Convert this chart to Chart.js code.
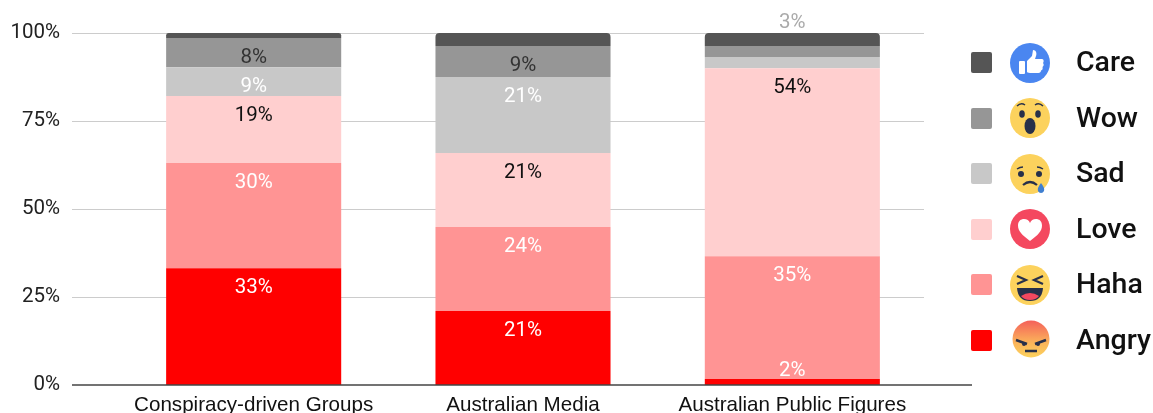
<!DOCTYPE html>
<html><head><meta charset="utf-8">
<style>
html,body{margin:0;padding:0;background:#fff;overflow:hidden}
#wrap{position:relative;width:1153px;height:413px}
canvas{position:absolute;left:0;top:0}
.sw{position:absolute;width:21px;height:21px;border-radius:2px;left:971px}
.ic{position:absolute;left:1010px;width:40px;height:40px}
.tx{position:absolute;left:1076px;font:500 28.5px Roboto,sans-serif;color:#111;line-height:32px;height:32px;white-space:nowrap}
</style></head><body>
<div id="wrap"><canvas id="c" width="1153" height="413"></canvas><div id="legend"></div></div>
<script src="https://cdn.jsdelivr.net/npm/chart.js@4"></script>
<script>
const categories=["Conspiracy-driven Groups","Australian Media","Australian Public Figures"];
const yTicks=[0,25,50,75,100];
const angry=[33.2,21,1.7];
const haha=[29.9,23.9,34.9];
const love=[19,21,53.4];
const sad=[8.2,21.6,3.2];
const wow=[8.3,8.8,3.1];
const care=[1.4,3.7,3.7];
const angryLabels=["33%","21%","2%"];
const hahaLabels=["30%","24%","35%"];
const loveLabels=["19%","21%","54%"];
const sadLabels=["9%","21%",""];
const wowLabels=["8%","9%",""];
const careLabels=["","","3%"];
const seriesNames=["Angry","Haha","Love","Sad","Wow","Care"];
const seriesValues=[angry,haha,love,sad,wow,care];
const seriesLabels=[angryLabels,hahaLabels,loveLabels,sadLabels,wowLabels,careLabels];
const seriesColors=["#ff0000","#ff9494","#ffcfcf","#c8c8c8","#969696","#555555"];
const labelColors=["#ffffff","#ffffff","#111111","#ffffff","#333333","#aaaaaa"];

const icons={
Care:'<circle cx="20" cy="20" r="20" fill="#4a86f0"/><rect x="9" y="18" width="6" height="13" rx="1" fill="#fff"/><path d="M17 18l5-5 1-6c3 0 4 3 3 6l-1 3h7c2 0 2 3 1 4 1 1 1 3-.5 4 .5 1.500 0 3-1.500 3.500 0 1.500-1 2.500-2.500 2.500H20c-2 0-3-1-3-1z" fill="#fff"/>',
Wow:'<circle cx="20" cy="20" r="20" fill="#fcd25d"/><ellipse cx="12" cy="16" rx="2.800" ry="3.800" fill="#27304a"/><ellipse cx="28" cy="16" rx="2.800" ry="3.800" fill="#27304a"/><ellipse cx="20" cy="28" rx="5.500" ry="8" fill="#27304a"/><path d="M7 8q4-4 8-1M25 7q4-3 8 1" stroke="#27304a" stroke-width="1.500" fill="none"/>',
Sad:'<circle cx="20" cy="20" r="20" fill="#fcd25d"/><circle cx="11" cy="20" r="3" fill="#27304a"/><circle cx="29" cy="20" r="3" fill="#27304a"/><path d="M13 31q7-6 14 0" stroke="#27304a" stroke-width="2.200" fill="none"/><path d="M7 15q3-2 6-2M27 13q3 0 6 2" stroke="#27304a" stroke-width="1.500" fill="none"/><path d="M31 29q4 5 3 8a3.300 3.300 0 0 1-6 0q-1-3 3-8z" fill="#3f7fd0"/>',
Love:'<circle cx="20" cy="20" r="20" fill="#f4485f"/><path d="M20 32C12 26 8 22 8 16.500 8 12 11 10 14 10c3 0 5 1.500 6 4 1-2.500 3-4 6-4 3 0 6 2 6 6.500C32 22 28 26 20 32z" fill="#fff"/>',
Haha:'<circle cx="20" cy="20" r="20" fill="#fcd25d"/><path d="M7 11l9 4-9 4M33 11l-9 4 9 4" stroke="#27304a" stroke-width="2.200" fill="none"/><path d="M7 23h26q-1 13-13 13T7 23z" fill="#27304a"/><path d="M11 31q9-6 18 0-3 4-9 4t-9-4z" fill="#f4485f"/>',
Angry:'<defs><linearGradient id="ag" x1="0" y1="0" x2="0" y2="1"><stop offset="0" stop-color="#f4605a"/><stop offset=".6" stop-color="#fbb45a"/><stop offset="1" stop-color="#fcd25d"/></linearGradient></defs><circle cx="21" cy="19" r="18.500" fill="url(#ag)"/><path d="M6 20l11 4M36 20l-11 4" stroke="#27304a" stroke-width="2.500"/><circle cx="14" cy="24" r="2" fill="#27304a"/><circle cx="28" cy="24" r="2" fill="#27304a"/><path d="M15 31h12" stroke="#27304a" stroke-width="2.500"/>'
};
const legendOrder=["Care","Wow","Sad","Love","Haha","Angry"];
const legendCenters=[62.5,118,173.500,229,284.500,340];
const lg=document.getElementById('legend');
legendOrder.forEach((n,i)=>{
  const c=seriesColors[seriesNames.indexOf(n)],y=legendCenters[i];
  lg.insertAdjacentHTML('beforeend',
   `<div class="sw" style="top:${y-10.5}px;background:${c}"></div>`+
   `<svg class="ic" viewBox="0 0 40 40" style="top:${y-20}px">${icons[n]}</svg>`+
   `<div class="tx" style="top:${y-16.5}px">${n}</div>`);
});

const decor={
  id:'decor',
  beforeDatasetsDraw(ch){
    const g=ch.ctx,y=ch.scales.y;
    g.save();g.strokeStyle='#cccccc';g.lineWidth=1;
    yTicks.filter(t=>t>0).forEach(t=>{
      const p=Math.round(y.getPixelForValue(t))+.5;
      g.beginPath();g.moveTo(72,p);g.lineTo(924,p);g.stroke();
    });
    g.restore();
  },
  afterDatasetsDraw(ch){
    const g=ch.ctx,y=ch.scales.y;
    g.save();g.strokeStyle='#444444';g.lineWidth=1.5;
    const p=y.getPixelForValue(0);
    g.beginPath();g.moveTo(72,p);g.lineTo(972,p);g.stroke();
    g.font='20.5px Roboto, sans-serif';g.textAlign='center';g.textBaseline='middle';
    ch.data.datasets.forEach((d,di)=>{
      ch.getDatasetMeta(di).data.forEach((b,i)=>{
        const t=seriesLabels[di][i];if(!t)return;
        g.fillStyle=labelColors[di];
        const yy=di===5?b.y-10:(b.base-b.y<20?b.y-8:b.y+19.5);
        g.fillText(t,b.x,yy);
      });
    });
    g.restore();
  }
};

const noPad=s=>{s.paddingTop=0;s.paddingBottom=0;s.paddingLeft=0;s.paddingRight=0;};
new Chart(document.getElementById('c'),{
  type:'bar',
  data:{labels:categories,datasets:seriesNames.map((n,i)=>({
    label:n,data:seriesValues[i],backgroundColor:seriesColors[i],borderWidth:0,
    borderSkipped:false,
    borderRadius:n==="Care"?{topLeft:4,topRight:4,bottomLeft:0,bottomRight:0}:0,
    categoryPercentage:1,barPercentage:.65
  }))},
  options:{
    responsive:false,animation:false,
    layout:{padding:{top:33,right:226,left:0,bottom:0}},
    plugins:{legend:{display:false},title:{display:false},tooltip:{enabled:false}},
    scales:{
      x:{stacked:true,grid:{display:false,drawTicks:false},border:{display:false},
        ticks:{color:'#111',font:{family:'"Liberation Sans", Arial, sans-serif',size:20.6},padding:8,maxRotation:0,autoSkip:false},
        afterFit(s){s.height=28;noPad(s);}},
      y:{stacked:true,min:0,max:100,grid:{display:false,drawTicks:false},border:{display:false},
        afterBuildTicks(s){s.ticks=yTicks.map(v=>({value:v}));},
        ticks:{color:'#222',font:{family:'Roboto, sans-serif',size:20.5},padding:59,callback:v=>v+'%'},
        afterFit(s){s.width=119;noPad(s);}}
    }
  },
  plugins:[decor]
});
</script></body></html>
